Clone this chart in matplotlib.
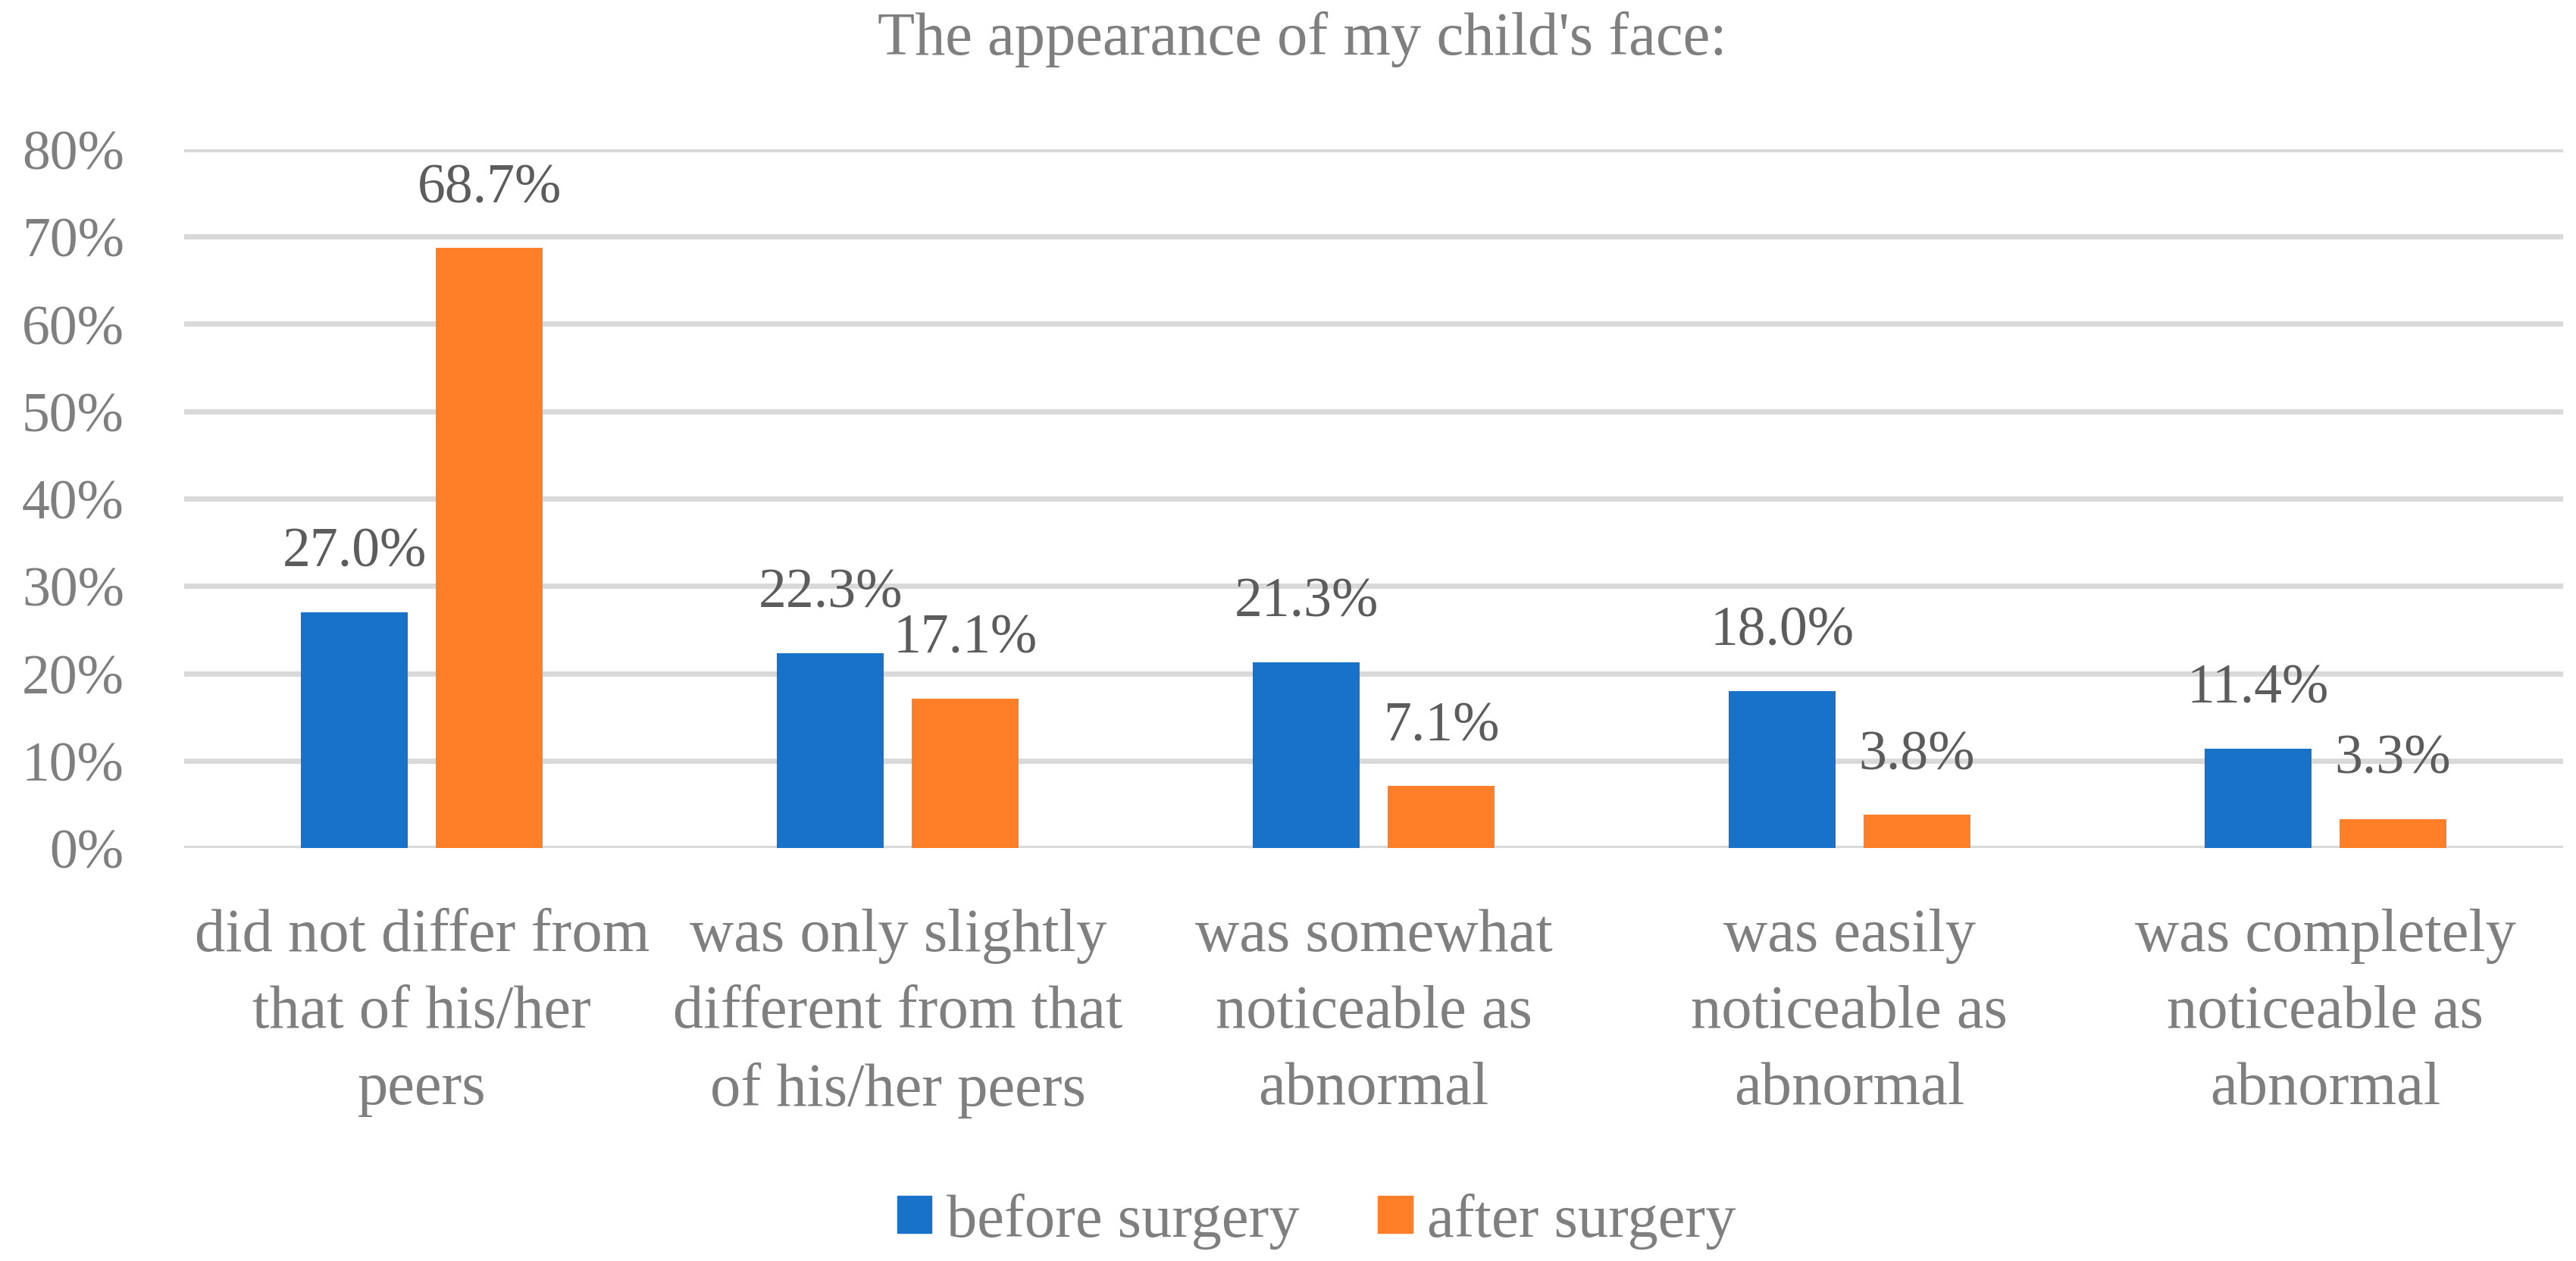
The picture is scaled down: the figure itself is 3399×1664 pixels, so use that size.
import matplotlib
matplotlib.use("Agg")
import matplotlib.pyplot as plt
import numpy as np
from matplotlib.patches import Patch

categories = [
    "did not differ from\nthat of his/her\npeers",
    "was only slightly\ndifferent from that\nof his/her peers",
    "was somewhat\nnoticeable as\nabnormal",
    "was easily\nnoticeable as\nabnormal",
    "was completely\nnoticeable as\nabnormal",
]
before = [27.0, 22.3, 21.3, 18.0, 11.4]
after = [68.7, 17.1, 7.1, 3.8, 3.3]
series_names = ["before surgery", "after surgery"]
yticks = [0, 10, 20, 30, 40, 50, 60, 70, 80]
title = "The appearance of my child's face:"

BLUE = "#1872C9"
ORANGE = "#FE7F27"
GRID = "#D9D9D9"
TICK = "#7F7F7F"
LABEL = "#5C5C5C"
FS = 53
FS_TXT = 58

plt.rcParams['font.family'] = ['Liberation Serif', 'DejaVu Serif']

fig = plt.figure(figsize=(33.99, 16.65), dpi=100)
ax = fig.add_axes([243/3399, 545/1665, (3382-243)/3399, (1120-198)/1665])

x = np.arange(len(categories))
w = 0.2245
off = 0.1417
b1 = ax.bar(x - off, before, w, color=BLUE, zorder=3)
b2 = ax.bar(x + off, after, w, color=ORANGE, zorder=3)

for bars, vals in ((b1, before), (b2, after)):
    for r, v in zip(bars, vals):
        ax.annotate(f"{v:.1f}%", (r.get_x() + r.get_width()/2, v),
                    xytext=(0, 44), textcoords="offset points",
                    ha="center", va="baseline", fontsize=FS, color=LABEL)

ax.set_xlim(-0.5, len(categories) - 0.5)
ax.set_ylim(0, 80)
ax.set_yticks(yticks)
ax.set_yticklabels([f"{t}%" for t in yticks])
ax.yaxis.grid(True, color=GRID, linewidth=5, zorder=0)
ax.set_axisbelow(True)
for s in ax.spines.values():
    s.set_visible(False)
ax.tick_params(axis="y", length=0, pad=57, labelsize=FS, labelcolor=TICK)
ax.set_xticks(x)
ax.set_xticklabels(categories, fontsize=FS_TXT, color=TICK, linespacing=1.5)
ax.tick_params(axis="x", length=0, pad=57)

fig.text(1718/3399, 1 - 72/1665, title, ha="center", va="baseline",
         fontsize=FS_TXT, color=TICK)

handles = [Patch(color=BLUE), Patch(color=ORANGE)]
fig.legend(handles, series_names, loc="center", bbox_to_anchor=(1737/3399, 1 - 1612/1665),
           ncol=2, frameon=False, fontsize=FS_TXT, labelcolor=TICK,
           handlelength=0.57, handleheight=0.57, handletextpad=0.24,
           columnspacing=1.28, borderpad=0)

fig.savefig("out.png", dpi=100)
